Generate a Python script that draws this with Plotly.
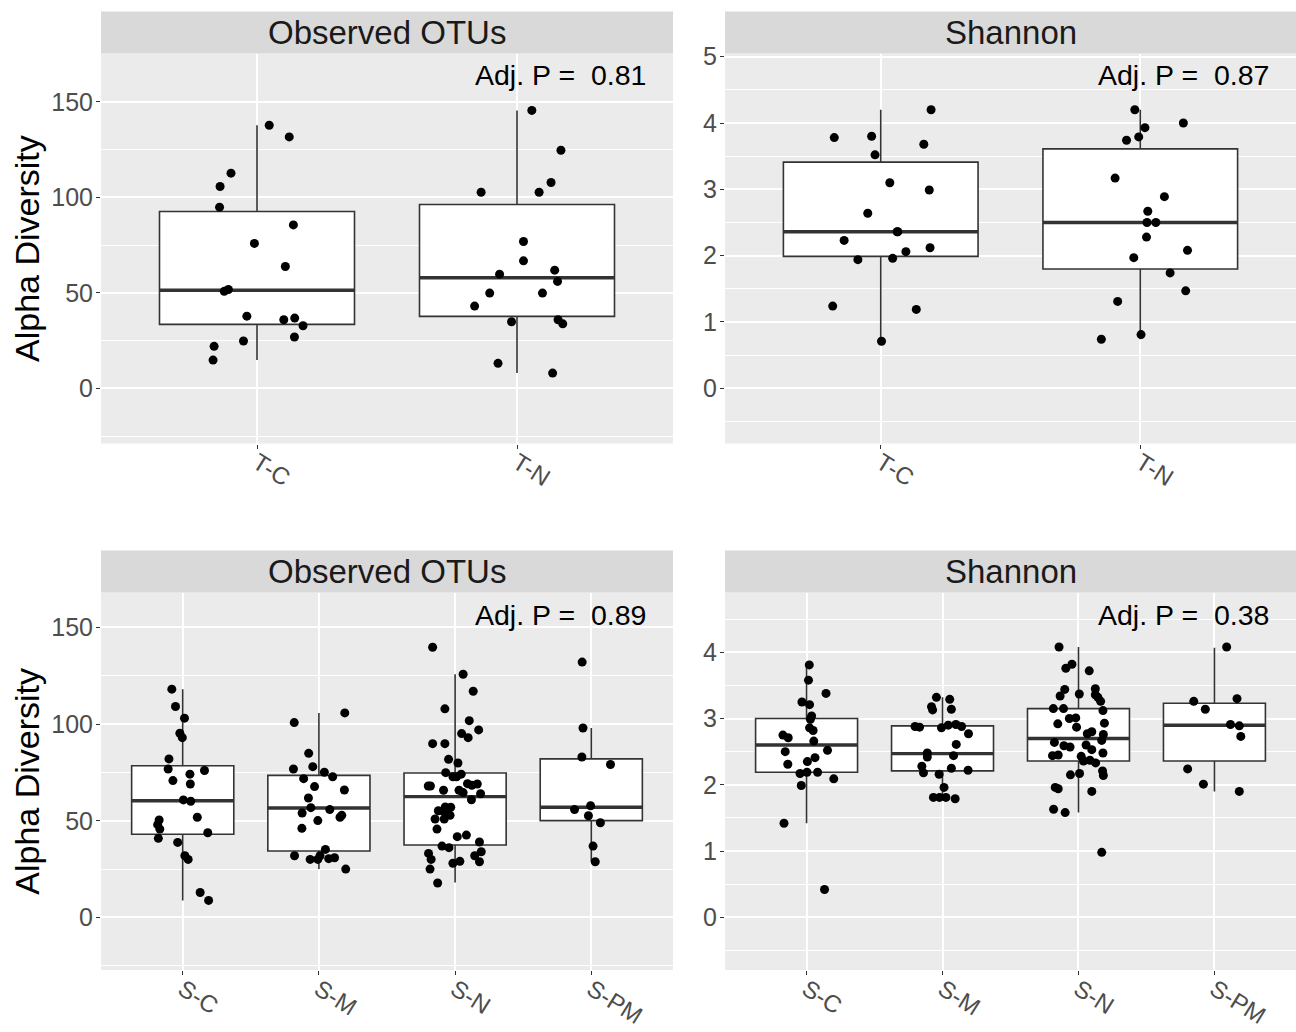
import plotly.graph_objects as go

W, H = 1296, 1032

# ---------------- data ----------------
tissue_groups = ["T-C", "T-N"]
stool_groups = ["S-C", "S-M", "S-N", "S-PM"]

# Observed OTUs, tissue samples
tissue_otu = [
    [137.8, 131.7, 112.7, 105.7, 94.9, 85.6, 75.9, 63.8, 50.8, 51.8, 37.8, 35.9,
     36.8, 32.8, 26.9, 24.8, 22.0, 14.8],
    [145.6, 124.7, 107.8, 102.7, 102.7, 76.9, 66.8, 61.9, 59.8, 56.0, 49.9, 49.9,
     43.1, 34.9, 35.9, 33.8, 13.1, 8.0],
]
tissue_otu_jitter = [
    [0.047, 0.124, -0.100, -0.142, -0.144, 0.140, -0.010, 0.109, -0.126, -0.110,
     -0.039, 0.103, 0.145, 0.177, 0.144, -0.052, -0.165, -0.169],
    [0.057, 0.169, 0.131, -0.138, 0.085, 0.025, 0.025, 0.145, -0.067, 0.156,
     -0.105, 0.098, -0.163, -0.021, 0.158, 0.176, -0.073, 0.137],
]
tissue_otu_q1 = [33.5, 37.7]
tissue_otu_median = [51.4, 57.9]
tissue_otu_q3 = [92.6, 96.3]
tissue_otu_lo = [14.8, 8.0]
tissue_otu_hi = [137.8, 145.6]

# Shannon, tissue samples
tissue_shannon = [
    [4.20, 3.78, 3.80, 3.68, 3.52, 3.10, 2.99, 2.64, 2.36, 2.36, 2.23, 1.94,
     1.96, 2.06, 2.12, 1.24, 1.19, 0.71],
    [4.20, 3.93, 4.00, 3.74, 3.79, 3.17, 2.89, 2.67, 2.50, 2.50, 2.28, 2.08,
     1.97, 1.74, 1.47, 1.31, 0.74, 0.81],
]
tissue_shannon_jitter = [
    [0.194, -0.179, -0.035, 0.166, -0.022, 0.035, 0.187, -0.050, 0.063, 0.066,
     -0.141, -0.088, 0.046, 0.097, 0.190, -0.185, 0.137, 0.003],
    [-0.021, 0.018, 0.166, -0.053, -0.006, -0.097, 0.093, 0.029, 0.026, 0.060,
     0.024, 0.182, -0.025, 0.115, 0.175, -0.087, -0.150, 0.003],
]
tissue_shannon_q1 = [1.99, 1.80]
tissue_shannon_median = [2.36, 2.50]
tissue_shannon_q3 = [3.41, 3.61]
tissue_shannon_lo = [0.71, 0.74]
tissue_shannon_hi = [4.20, 4.20]

# Observed OTUs, stool samples
stool_otu = [
    [118.1, 109.1, 103.1, 95.3, 93.0, 82.0, 76.8, 76.0, 74.1, 70.8, 69.0, 60.8,
     60.1, 51.8, 50.4, 48.0, 45.7, 43.8, 40.9, 38.8, 31.9, 30.0, 12.9, 8.8],
    [105.8, 100.8, 84.9, 78.0, 76.8, 75.1, 72.8, 71.8, 67.7, 65.9, 61.8, 56.8,
     55.8, 54.0, 52.8, 51.8, 50.1, 46.1, 35.2, 31.9, 30.0, 31.9, 30.0, 30.4,
     30.9, 25.0],
    [139.8, 125.8, 117.0, 107.9, 101.8, 97.0, 95.1, 93.0, 89.9, 89.9, 81.8, 79.9,
     74.9, 72.8, 74.1, 72.8, 68.0, 68.0, 69.2, 68.4, 69.0, 65.8, 65.8, 64.6,
     64.0, 60.9, 57.1, 57.0, 55.2, 54.7, 52.8, 50.9, 50.9, 45.7, 42.6, 41.8,
     39.0, 36.9, 36.1, 33.1, 31.9, 34.0, 30.0, 28.0, 29.0, 28.8, 25.0, 17.8],
    [132.1, 98.0, 83.0, 79.1, 57.8, 55.8, 52.6, 49.0, 36.9, 28.8],
]
stool_otu_jitter = [
    [-0.080, -0.053, 0.013, -0.021, -0.003, -0.101, -0.107, 0.160, 0.053, -0.072,
     0.056, 0.005, 0.059, 0.107, -0.173, -0.184, -0.168, 0.184, -0.179, -0.037,
     0.016, 0.040, 0.128, 0.190],
    [0.190, -0.181, -0.075, -0.045, -0.187, 0.040, 0.101, -0.112, -0.032, 0.187,
     -0.077, -0.059, 0.080, -0.123, 0.168, 0.155, -0.008, -0.125, 0.048, -0.179,
     -0.064, 0.008, -0.008, 0.072, 0.115, 0.197],
    [-0.165, 0.059, 0.133, -0.075, 0.104, 0.173, 0.048, 0.096, -0.165, -0.075,
     -0.048, 0.021, -0.069, -0.016, 0.045, 0.011, -0.197, -0.181, 0.091, 0.123,
     0.163, -0.085, 0.029, 0.059, 0.187, 0.120, -0.072, -0.032, -0.123, -0.085,
     -0.037, -0.147, -0.080, -0.133, 0.083, 0.016, 0.179, -0.096, -0.045, -0.195,
     0.144, 0.192, -0.176, -0.016, 0.035, 0.179, -0.184, -0.128],
    [-0.067, -0.061, -0.069, 0.141, -0.005, -0.123, -0.021, 0.067, 0.013, 0.029],
]
stool_otu_q1 = [43.0, 34.4, 37.5, 50.1]
stool_otu_median = [60.4, 56.6, 62.5, 57.0]
stool_otu_q3 = [78.5, 73.5, 74.7, 82.0]
stool_otu_lo = [8.8, 25.0, 18.1, 28.8]
stool_otu_hi = [118.1, 105.8, 125.8, 98.0]

# Shannon, stool samples
stool_shannon = [
    [3.81, 3.58, 3.38, 3.25, 3.21, 3.04, 2.99, 2.86, 2.82, 2.75, 2.71, 2.66,
     2.52, 2.50, 2.41, 2.35, 2.31, 2.17, 2.19, 2.19, 2.09, 1.99, 1.42, 0.42],
    [3.32, 3.29, 3.18, 3.13, 3.14, 2.88, 2.87, 2.86, 2.90, 2.91, 2.88, 2.77,
     2.61, 2.48, 2.42, 2.44, 2.28, 2.25, 2.22, 2.18, 2.16, 1.96, 1.81, 1.81,
     1.81, 1.79],
    [4.08, 3.82, 3.76, 3.72, 3.44, 3.45, 3.34, 3.37, 3.36, 3.32, 3.26, 3.15,
     3.15, 3.12, 3.00, 3.01, 2.92, 2.93, 2.87, 2.80, 2.77, 2.76, 2.67, 2.64,
     2.59, 2.57, 2.60, 2.53, 2.48, 2.44, 2.45, 2.43, 2.36, 2.37, 2.33, 2.21,
     2.14, 2.15, 2.17, 1.96, 1.94, 1.90, 1.63, 1.58, 0.98],
    [4.08, 3.26, 3.30, 3.14, 2.91, 2.89, 2.73, 2.24, 2.01, 1.90],
]
stool_shannon_jitter = [
    [0.020, 0.014, 0.143, -0.034, 0.022, 0.037, 0.028, 0.022, 0.048, -0.174,
     -0.135, 0.053, 0.154, -0.157, 0.062, 0.006, -0.138, -0.048, 0.003, 0.081,
     0.200, -0.039, -0.166, 0.132],
    [-0.045, 0.053, -0.081, -0.073, 0.065, -0.202, -0.169, -0.008, 0.042, 0.098,
     0.140, 0.191, 0.101, -0.112, -0.112, 0.081, -0.152, 0.065, 0.188, -0.140,
     -0.025, 0.011, -0.067, -0.022, 0.025, 0.093],
    [-0.143, -0.048, -0.093, 0.079, -0.101, 0.124, -0.135, 0.006, 0.124, 0.143,
     0.163, -0.185, -0.110, 0.180, -0.067, -0.020, -0.152, 0.191, -0.014, 0.098,
     0.065, 0.183, 0.171, -0.177, -0.107, -0.062, 0.056, 0.098, 0.180, -0.191,
     -0.149, 0.020, 0.037, 0.084, 0.126, 0.177, 0.183, -0.059, 0.008, -0.171,
     -0.149, 0.098, -0.183, -0.098, 0.171],
    [0.090, -0.152, 0.166, -0.067, 0.118, 0.183, 0.194, -0.197, -0.081, 0.183],
]
stool_shannon_q1 = [2.19, 2.21, 2.36, 2.36]
stool_shannon_median = [2.60, 2.47, 2.70, 2.90]
stool_shannon_q3 = [3.00, 2.89, 3.15, 3.23]
stool_shannon_lo = [1.42, 1.79, 1.58, 1.90]
stool_shannon_hi = [3.81, 3.32, 4.08, 4.07]

adj_p = ["0.81", "0.87", "0.89", "0.38"]
facet_titles = ["Observed OTUs", "Shannon", "Observed OTUs", "Shannon"]
y_title = "Alpha Diversity"

# ---------------- styling ----------------
FONT = "Liberation Sans, Arial, sans-serif"
PANEL_BG = "#EBEBEB"
STRIP_BG = "#D9D9D9"
BOX_LINE = "#333333"
TICK_TXT = "#4D4D4D"
BOX_WIDTH = 0.75


def fx(px):
    return px / W


def fy(py):
    return 1 - py / H


# pixel frames of the four panels: (left, right, top, bottom)
frames = [
    (101, 673, 53.5, 443.5),
    (725, 1296, 53.5, 443.5),
    (101, 673, 592.5, 970),
    (725, 1296, 592.5, 970),
]
strip_h = 42

panels = [
    dict(groups=tissue_groups, vals=tissue_otu, jit=tissue_otu_jitter,
         q1=tissue_otu_q1, med=tissue_otu_median, q3=tissue_otu_q3,
         lo=tissue_otu_lo, hi=tissue_otu_hi,
         yrange=[-28.9, 175.4], dtick=50, minor=25),
    dict(groups=tissue_groups, vals=tissue_shannon, jit=tissue_shannon_jitter,
         q1=tissue_shannon_q1, med=tissue_shannon_median, q3=tissue_shannon_q3,
         lo=tissue_shannon_lo, hi=tissue_shannon_hi,
         yrange=[-0.832, 5.048], dtick=1, minor=0.5),
    dict(groups=stool_groups, vals=stool_otu, jit=stool_otu_jitter,
         q1=stool_otu_q1, med=stool_otu_median, q3=stool_otu_q3,
         lo=stool_otu_lo, hi=stool_otu_hi,
         yrange=[-27.2, 168.1], dtick=50, minor=25),
    dict(groups=stool_groups, vals=stool_shannon, jit=stool_shannon_jitter,
         q1=stool_shannon_q1, med=stool_shannon_median, q3=stool_shannon_q3,
         lo=stool_shannon_lo, hi=stool_shannon_hi,
         yrange=[-0.796, 4.903], dtick=1, minor=0.5),
]

fig = go.Figure()
layout = dict(
    width=W, height=H, autosize=False,
    margin=dict(l=0, r=0, t=0, b=0, autoexpand=False),
    paper_bgcolor="white", plot_bgcolor=PANEL_BG,
    showlegend=False,
    font=dict(family=FONT),
    shapes=[], annotations=[],
)

for k, (p, fr) in enumerate(zip(panels, frames)):
    n = k + 1
    xa = "x" if n == 1 else f"x{n}"
    ya = "y" if n == 1 else f"y{n}"
    left, right, top, bottom = fr
    pos = list(range(1, len(p["groups"]) + 1))

    # boxes
    fig.add_trace(go.Box(
        x=pos, q1=p["q1"], median=p["med"], q3=p["q3"],
        lowerfence=p["lo"], upperfence=p["hi"],
        width=BOX_WIDTH, whiskerwidth=0, boxpoints=False,
        fillcolor="white", line=dict(color=BOX_LINE, width=1.6),
        hoverinfo="skip", xaxis=xa, yaxis=ya,
    ))
    # thicker median bars
    for i, m in zip(pos, p["med"]):
        fig.add_trace(go.Scatter(
            x=[i - BOX_WIDTH / 2, i + BOX_WIDTH / 2], y=[m, m], mode="lines",
            line=dict(color=BOX_LINE, width=3.4), hoverinfo="skip",
            xaxis=xa, yaxis=ya,
        ))
    # jittered samples
    for i, vals, jit in zip(pos, p["vals"], p["jit"]):
        fig.add_trace(go.Scatter(
            x=[i + j for j in jit], y=vals, mode="markers",
            marker=dict(color="black", size=9, line=dict(width=0)),
            hoverinfo="skip", xaxis=xa, yaxis=ya,
        ))

    axkey_x = "xaxis" if n == 1 else f"xaxis{n}"
    axkey_y = "yaxis" if n == 1 else f"yaxis{n}"
    layout[axkey_x] = dict(
        domain=[fx(left), fx(right)], anchor=ya, automargin=False,
        range=[0.4, len(pos) + 0.6], tickvals=pos, ticktext=p["groups"],
        tickangle=32, showgrid=True, gridcolor="white", gridwidth=2,
        zeroline=False, showline=False,
        ticks="outside", ticklen=4, tickwidth=1.2, tickcolor=BOX_LINE,
        ticklabelstandoff=-9,
        tickfont=dict(size=24, color=TICK_TXT, family=FONT),
        fixedrange=True,
    )
    layout[axkey_y] = dict(
        domain=[fy(bottom), fy(top)], anchor=xa, automargin=False,
        range=p["yrange"], tick0=0, dtick=p["dtick"],
        showgrid=True, gridcolor="white", gridwidth=2,
        minor=dict(dtick=p["minor"], tick0=0, showgrid=True,
                   gridcolor="white", gridwidth=1, ticks=""),
        zeroline=False, showline=False,
        ticks="outside", ticklen=4, tickwidth=1.2, tickcolor=BOX_LINE,
        ticklabelstandoff=-2,
        tickfont=dict(size=25, color=TICK_TXT, family=FONT),
        fixedrange=True,
    )

    # facet strip
    layout["shapes"].append(dict(
        type="rect", xref="paper", yref="paper",
        x0=fx(left), x1=fx(right), y0=fy(top), y1=fy(top - strip_h),
        fillcolor=STRIP_BG, line=dict(width=0),
    ))
    layout["annotations"].append(dict(
        xref="paper", yref="paper", x=fx((left + right) / 2),
        y=fy(top - strip_h / 2), text=facet_titles[k], showarrow=False,
        xanchor="center", yanchor="middle",
        font=dict(size=33, color="#1A1A1A", family=FONT),
    ))
    # adjusted p-value label
    layout["annotations"].append(dict(
        xref=f"{xa} domain", yref=f"{ya} domain",
        x=1 - 25 / (right - left), y=1 - 22 / (bottom - top),
        text=f"Adj. P =\u00a0 {adj_p[k]}", showarrow=False,
        xanchor="right", yanchor="middle",
        font=dict(size=28.5, color="black", family=FONT),
    ))
    # y axis title on left-hand panels
    if left < 300:
        layout["annotations"].append(dict(
            xref="paper", yref="paper", x=fx(27.5), y=fy((top + bottom) / 2),
            text=y_title, textangle=-90, showarrow=False,
            xanchor="center", yanchor="middle",
            font=dict(size=34, color="black", family=FONT),
        ))

fig.update_layout(**layout)
fig.write_html("out.html")
